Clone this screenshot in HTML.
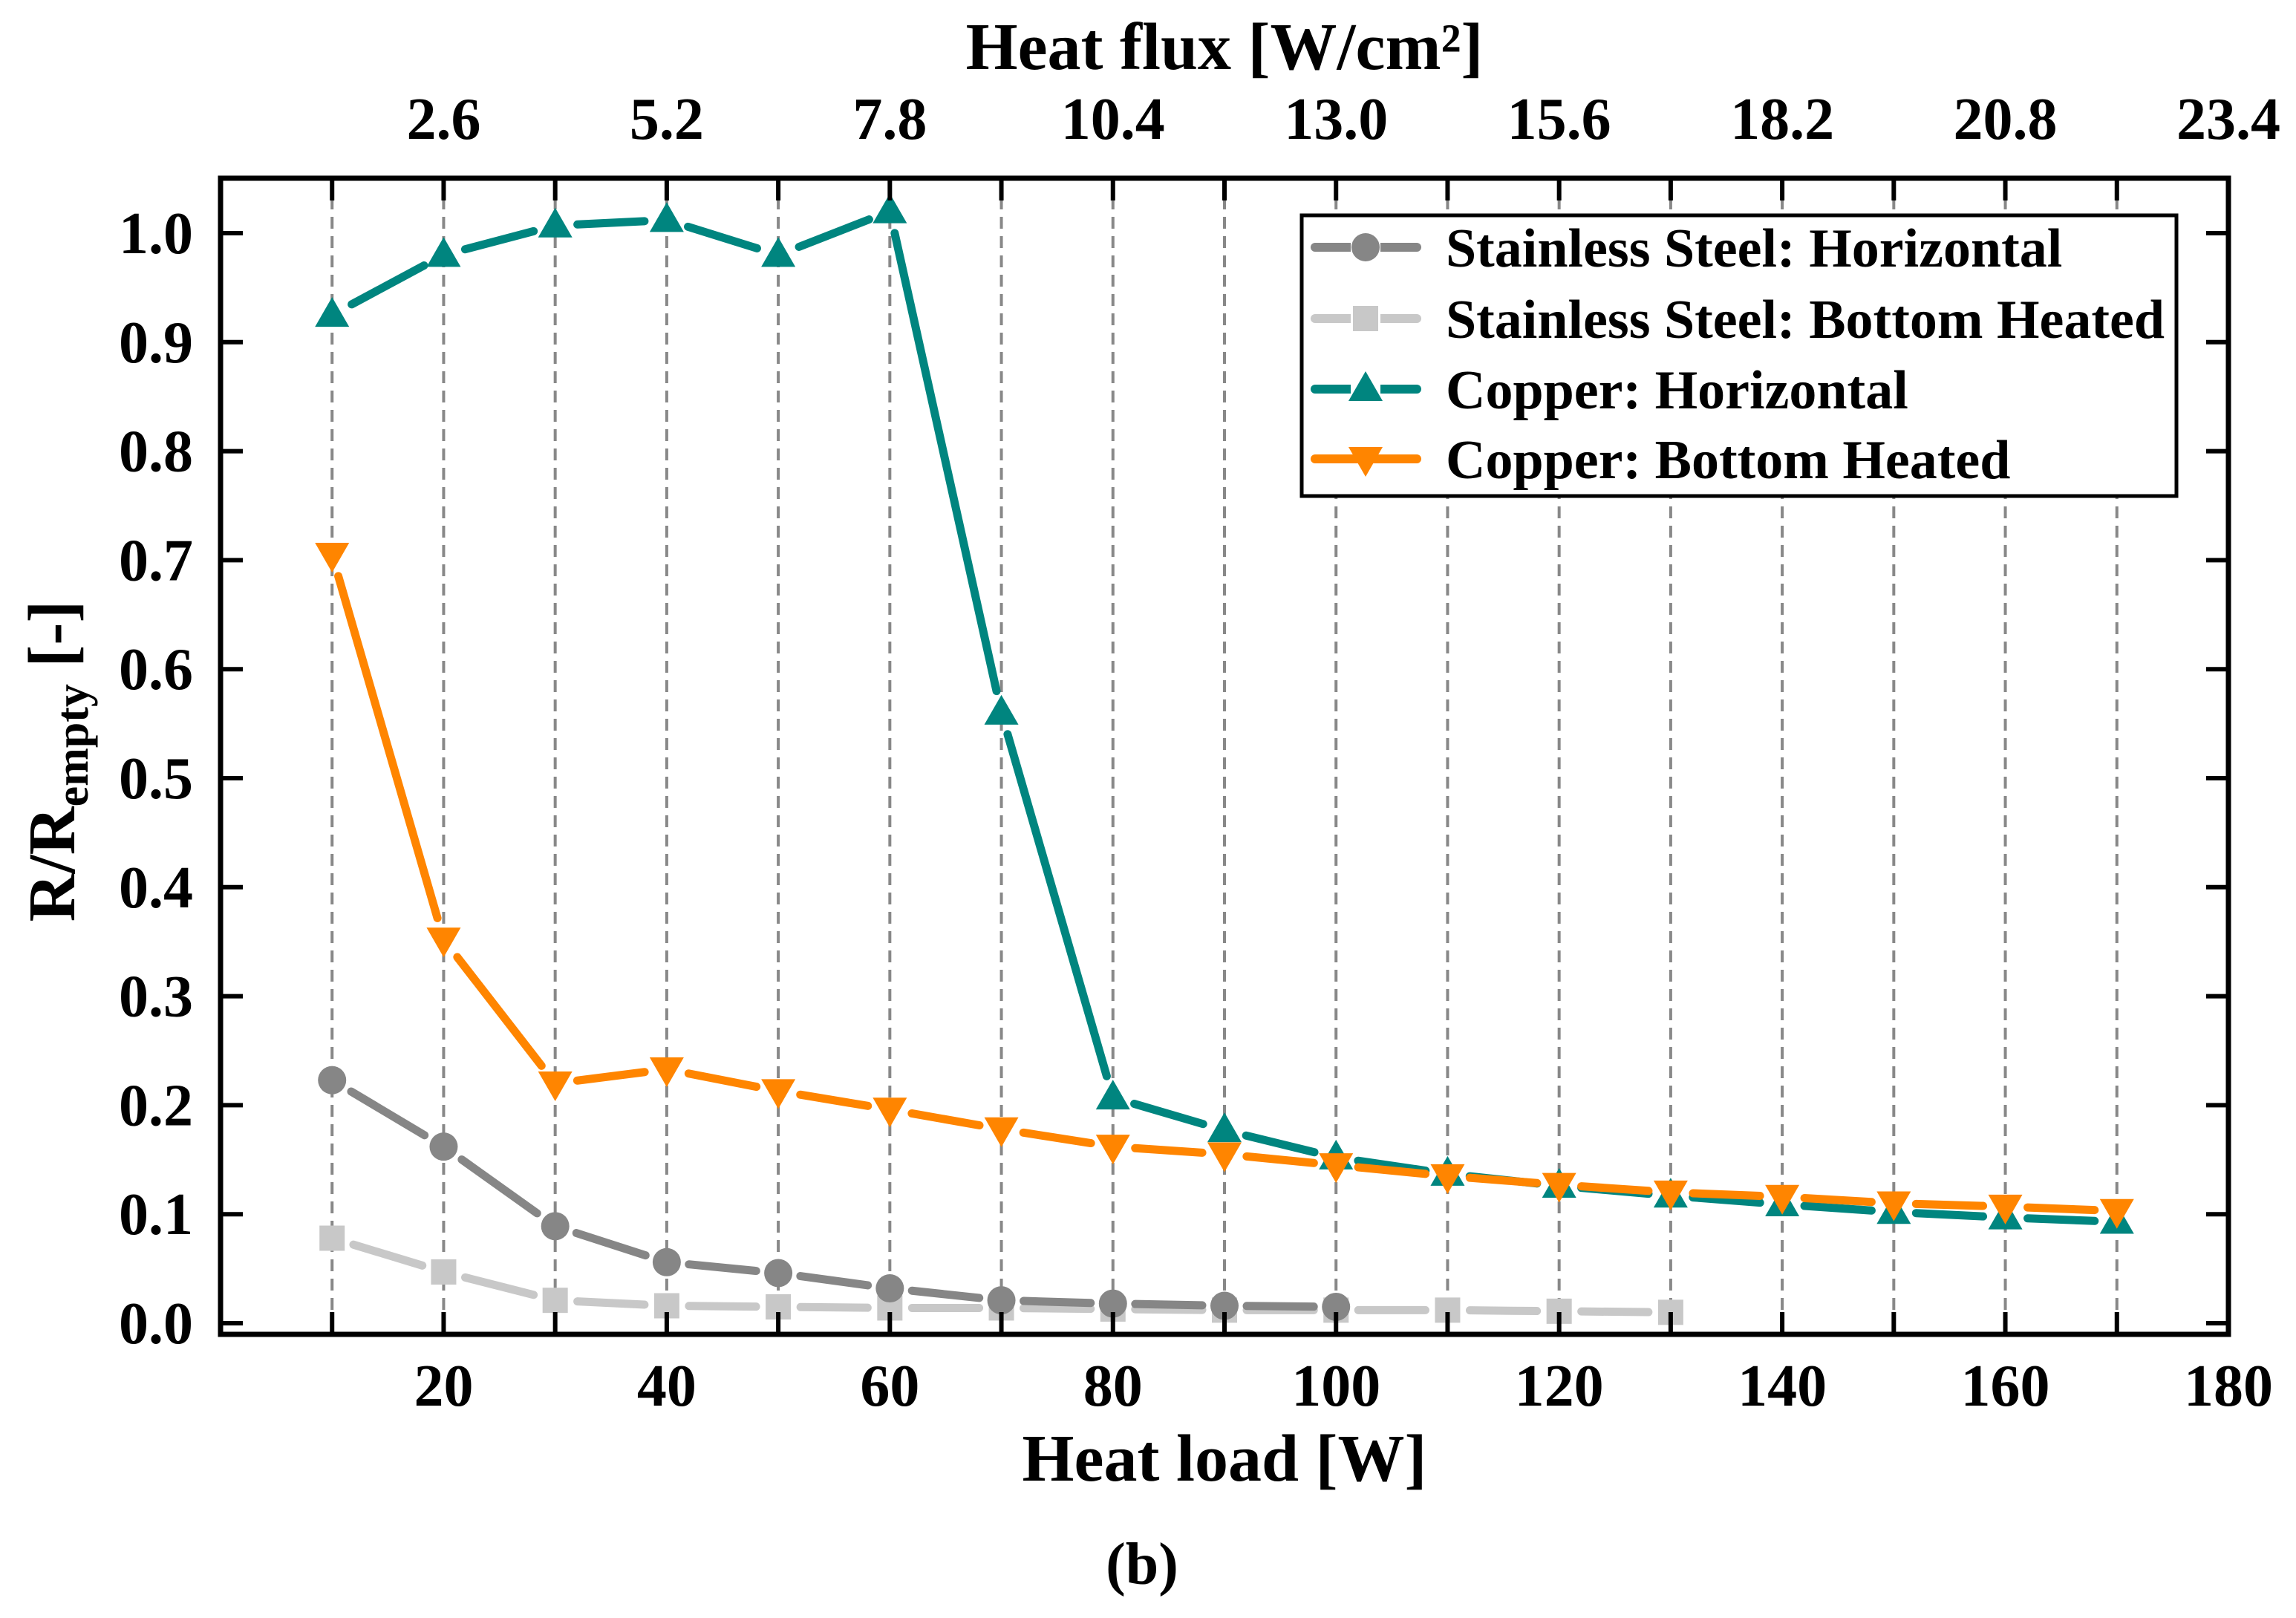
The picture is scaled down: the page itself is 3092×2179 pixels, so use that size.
<!DOCTYPE html>
<html><head><meta charset="utf-8"><style>
html,body{margin:0;padding:0;background:#fff;}
svg{display:block;font-family:"Liberation Serif","DejaVu Serif",serif;font-weight:bold;}
</style></head><body>
<svg id="chart" width="3092" height="2179" viewBox="0 0 3092 2179" xmlns="http://www.w3.org/2000/svg">
<g id="grid"></g>
<g id="series"></g>
<g id="axes"></g>
<text x="1649" y="93" text-anchor="middle" font-size="90">Heat flux [W/cm²]</text>
<text x="1649" y="1994" text-anchor="middle" font-size="90">Heat load [W]</text>
<text transform="translate(100,1025) rotate(-90)" text-anchor="middle" font-size="90">R/R<tspan font-size="62" dy="18">empty</tspan><tspan dy="-18"> [-]</tspan></text>
<text x="1538" y="2133" text-anchor="middle" font-size="80">(b)</text>
<g id="legend"></g>
</svg>
<script>
const xLoad = [10,20,30,40,50,60,70,80,90,100,110,120,130,140,150,160,170];
const ssHorizontal = [0.223,0.162,0.089,0.056,0.046,0.032,0.021,0.018,0.016,0.015];
const ssBottom = [0.078,0.047,0.021,0.016,0.015,0.014,0.014,0.013,0.012,0.012,0.012,0.011,0.010];
const cuHorizontal = [0.925,0.98,1.007,1.012,0.98,1.02,0.56,0.207,0.177,0.152,0.137,0.126,0.117,0.109,0.102,0.097,0.093];
const cuBottom = [0.705,0.352,0.22,0.233,0.213,0.196,0.178,0.162,0.155,0.145,0.135,0.127,0.12,0.116,0.11,0.107,0.103];
const xTicks = [20,40,60,80,100,120,140,160,180];
const topTickLabels = ["2.6","5.2","7.8","10.4","13.0","15.6","18.2","20.8","23.4"];
const yTicks = [0.0,0.1,0.2,0.3,0.4,0.5,0.6,0.7,0.8,0.9,1.0];
const seriesNames = ["Stainless Steel: Horizontal","Stainless Steel: Bottom Heated","Copper: Horizontal","Copper: Bottom Heated"];

const NS="http://www.w3.org/2000/svg";
const L=297,R=3001,T=240,B=1797;
const xs=v=>L+(v-0)/180*(R-L);
const ys=v=>1782-v*(1782-314);
function mk(tag,parent,attrs){const e=document.createElementNS(NS,tag);for(const k in attrs)e.setAttribute(k,attrs[k]);parent.appendChild(e);return e;}
const grid=document.getElementById('grid'),axes=document.getElementById('axes'),ser=document.getElementById('series'),leg=document.getElementById('legend');

for(let v=10;v<=170;v+=10){
  const g=mk('line',grid,{x1:xs(v),x2:xs(v),y1:T,y2:B,stroke:'#888',"stroke-width":4,"stroke-dasharray":"16,10"});
  
  
}
// frame
const fr=mk('rect',axes,{x:L,y:T,width:R-L,height:B-T,fill:'none',stroke:'#000',"stroke-width":7});


for(let v=10;v<180;v+=10){
  const t1=mk('line',axes,{x1:xs(v),x2:xs(v),y1:B,y2:B-30,stroke:'#000',"stroke-width":6});
  
  
  const t2=mk('line',axes,{x1:xs(v),x2:xs(v),y1:T,y2:T+30,stroke:'#000',"stroke-width":6});
  
  
}
xTicks.forEach((v,i)=>{
  const t=mk('text',axes,{x:xs(v),y:1893,"text-anchor":"middle","font-size":80});
  t.textContent=v;
  
  
  const u=mk('text',axes,{x:xs(v),y:187,"text-anchor":"middle","font-size":80});
  u.textContent=topTickLabels[i];
  
  
});
yTicks.forEach(v=>{
  const a=mk('line',axes,{x1:L,x2:L+30,y1:ys(v),y2:ys(v),stroke:'#000',"stroke-width":6});
  
  
  const b=mk('line',axes,{x1:R,x2:R-30,y1:ys(v),y2:ys(v),stroke:'#000',"stroke-width":6});
  
  
  const t=mk('text',axes,{x:260,y:ys(v)+27,"text-anchor":"end","font-size":80});
  t.textContent=v.toFixed(1);
  
  
});

function marker(parent,type,x,y,color){
  let e;
  if(type==='circle') e=mk('circle',parent,{cx:x,cy:y,r:19,fill:color});
  else if(type==='square') e=mk('rect',parent,{x:x-17,y:y-17,width:34,height:34,fill:color});
  else if(type==='up') e=mk('polygon',parent,{points:`${x},${y-24} ${x-23},${y+16} ${x+23},${y+16}`,fill:color});
  else e=mk('polygon',parent,{points:`${x},${y+24} ${x-23},${y-16} ${x+23},${y-16}`,fill:color});
  return e;
}
function drawSeries(vals,color,type,dash,name){
  const g=mk('g',ser,{});
  
  
  const pts=vals.map((v,i)=>[xs(xLoad[i]),ys(v)]);
  for(let i=0;i<pts.length-1;i++){
    const [x1,y1]=pts[i],[x2,y2]=pts[i+1];
    const d=Math.hypot(x2-x1,y2-y1),gap=30;
    if(d<=2*gap) continue;
    const ux=(x2-x1)/d,uy=(y2-y1)/d;
    const s=mk('line',g,{x1:x1+ux*gap,y1:y1+uy*gap,x2:x2-ux*gap,y2:y2-uy*gap,stroke:color,"stroke-width":11,"stroke-linecap":"round"});
    
    
  }
  pts.forEach(p=>{
    const m=marker(g,type,p[0],p[1],color);
    
    
  });
}
drawSeries(ssBottom,'#c8c8c8','square',false,'series-ss-bottom-heated');
drawSeries(ssHorizontal,'#868686','circle',false,'series-ss-horizontal');
drawSeries(cuHorizontal,'#00857f','up',true,'series-copper-horizontal');
drawSeries(cuBottom,'#ff8500','down',false,'series-copper-bottom-heated');

// legend
const lb=mk('rect',leg,{x:1753,y:290,width:1178,height:378,fill:'#fff',stroke:'#000',"stroke-width":5});


const legColors=['#868686','#c8c8c8','#00857f','#ff8500'],legTypes=['circle','square','up','down'],legY=[333,429,524,618];
seriesNames.forEach((n,i)=>{
  const g=mk('g',leg,{});
  
  
  mk('line',g,{x1:1771,x2:1908,y1:legY[i],y2:legY[i],stroke:legColors[i],"stroke-width":12,"stroke-linecap":"round"});
  if(i!==3) mk('rect',g,{x:1819,y:legY[i]-10,width:40,height:20,fill:'#fff'});
  marker(g,legTypes[i],1839,legY[i],legColors[i]);
  const t=mk('text',g,{x:1947,y:legY[i]+26,"font-size":74});
  t.textContent=n;
});
</script>
</body></html>
